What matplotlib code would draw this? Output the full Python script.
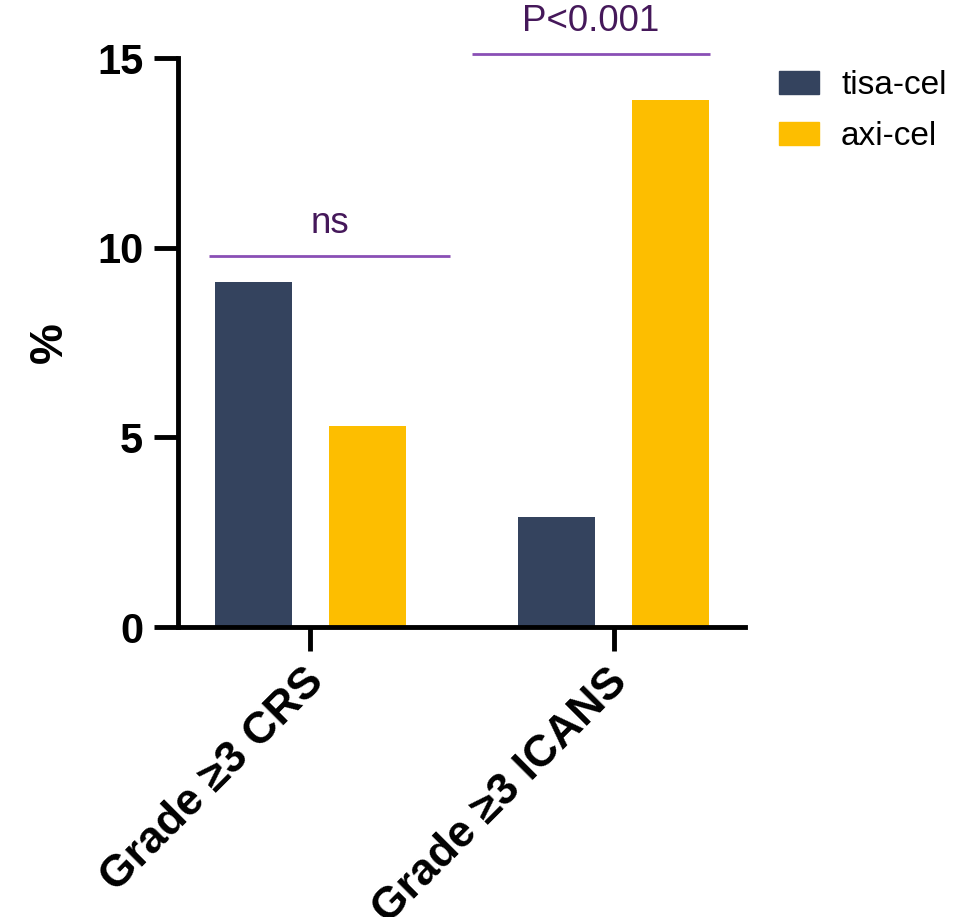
import numpy as np
import matplotlib.pyplot as plt
import matplotlib.transforms as mtransforms
from matplotlib.patches import Patch

plt.rcParams['font.family'] = ['Liberation Sans', 'DejaVu Sans']

groups = ['Grade \u22653 CRS', 'Grade \u22653 ICANS']
tisa_cel = [9.1, 2.9]
axi_cel = [5.3, 13.9]
sig_labels = ['ns', 'P<0.001']
sig_heights = [9.78, 15.1]

navy = '#34435e'
gold = '#fdbe00'

fig = plt.figure(figsize=(9.71, 9.17), dpi=100)
ax = fig.add_axes([0.1833, 0.3162, 0.5837, 0.6205])

x = np.arange(len(groups))
w = 0.254
off = 0.188
ax.bar(x - off, tisa_cel, w, color=navy)
ax.bar(x + off, axi_cel, w, color=gold)

# significance bars
spans = [(-0.334, 0.460), (0.532, 1.316)]
for (a, b), lab, h in zip(spans, sig_labels, sig_heights):
    ax.plot([a, b], [h, h], color='#8a4fb5', lw=2, clip_on=False, solid_capstyle='butt')
    ax.text((a + b) / 2, h + 0.4, lab, ha='center', va='bottom', fontsize=26.5,
            color='#45185a', clip_on=False)

ax.set_xlim(-0.4366, 1.4316)
ax.set_ylim(0, 15)
ax.set_yticks([0, 5, 10, 15])
ax.set_xticks(x)
ax.set_xticklabels([])

# rotated category labels, anchored just below each tick
shift = mtransforms.ScaledTranslation(-0.07, -0.34, fig.dpi_scale_trans)
for xi, g in zip(x, groups):
    ax.text(xi, 0, g, transform=ax.get_xaxis_transform() + shift,
            rotation=45, ha='right', va='top', rotation_mode='anchor',
            fontsize=32, fontweight='bold', clip_on=False)

for t in ax.get_yticklabels():
    t.set_fontsize(30)
    t.set_fontweight('bold')
ax.tick_params(axis='both', width=3.5, length=17, direction='out', pad=8)
ax.spines['top'].set_visible(False)
ax.spines['right'].set_visible(False)
ax.spines['left'].set_linewidth(3.5)
ax.spines['bottom'].set_linewidth(3.5)
ax.set_ylabel('%', fontsize=33, fontweight='bold', labelpad=18)

handles = [Patch(color=navy, label='tisa-cel'), Patch(color=gold, label='axi-cel')]
ax.legend(handles=handles, loc='upper left', bbox_to_anchor=(1.02, 1.02), frameon=False,
          fontsize=24, handlelength=1.2, handleheight=0.7, labelspacing=0.6,
          handletextpad=0.65, borderaxespad=0.3)

fig.savefig('out.png', dpi=100)
